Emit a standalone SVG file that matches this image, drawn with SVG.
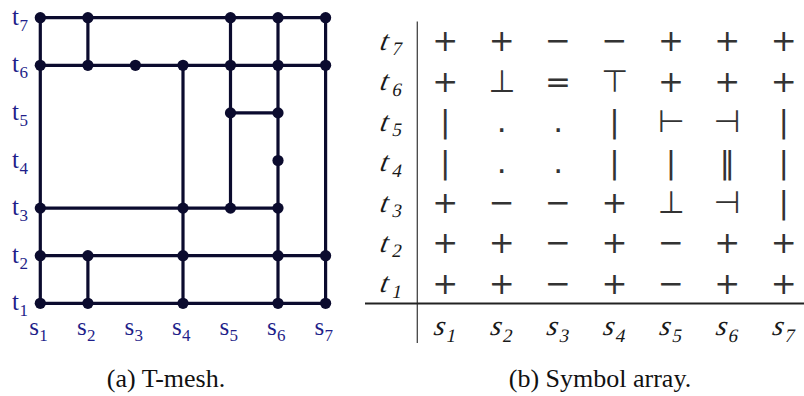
<svg xmlns="http://www.w3.org/2000/svg" width="804" height="396" viewBox="0 0 804 396">
<style>
.edge{stroke:#0b0b2e;stroke-width:3.2;stroke-linecap:round;fill:none}
.node{fill:#0b0b2e}
.ml{font-family:'Liberation Serif','Times New Roman',serif;font-size:25px;fill:#1f1f8a}
.ms{font-size:17px}
.mi{font-family:'Liberation Serif','Times New Roman',serif;font-style:italic;font-size:28px;fill:#1a1a1a}
.sub{font-style:normal;font-size:19px}
.sym{font-family:'DejaVu Sans',sans-serif;font-size:31px;text-anchor:middle;fill:#333333}
.cap{font-family:'Liberation Serif','Times New Roman',serif;font-size:26px;fill:#111111;text-anchor:middle}
</style>
<rect width="804" height="396" fill="#ffffff"/>
<g id="connectors">
<line class="edge" x1="40.3" y1="17.7" x2="325.6" y2="17.7"/>
<line class="edge" x1="40.3" y1="65.3" x2="325.6" y2="65.3"/>
<line class="edge" x1="230.5" y1="112.9" x2="278" y2="112.9"/>
<line class="edge" x1="40.3" y1="208.1" x2="278" y2="208.1"/>
<line class="edge" x1="40.3" y1="255.7" x2="325.6" y2="255.7"/>
<line class="edge" x1="40.3" y1="303.3" x2="325.6" y2="303.3"/>
<line class="edge" x1="40.3" y1="17.7" x2="40.3" y2="303.3"/>
<line class="edge" x1="87.9" y1="17.7" x2="87.9" y2="65.3"/>
<line class="edge" x1="87.9" y1="255.7" x2="87.9" y2="303.3"/>
<line class="edge" x1="183" y1="65.3" x2="183" y2="303.3"/>
<line class="edge" x1="230.5" y1="17.7" x2="230.5" y2="208.1"/>
<line class="edge" x1="278" y1="17.7" x2="278" y2="303.3"/>
<line class="edge" x1="325.6" y1="17.7" x2="325.6" y2="303.3"/>
</g>
<g id="nodes">
<g id="n-s1-t7"><circle class="node" cx="40.3" cy="17.7" r="5.6"/></g>
<g id="n-s2-t7"><circle class="node" cx="87.9" cy="17.7" r="5.6"/></g>
<g id="n-s5-t7"><circle class="node" cx="230.5" cy="17.7" r="5.6"/></g>
<g id="n-s6-t7"><circle class="node" cx="278" cy="17.7" r="5.6"/></g>
<g id="n-s7-t7"><circle class="node" cx="325.6" cy="17.7" r="5.6"/></g>
<g id="n-s1-t6"><circle class="node" cx="40.3" cy="65.3" r="5.6"/></g>
<g id="n-s2-t6"><circle class="node" cx="87.9" cy="65.3" r="5.6"/></g>
<g id="n-s3-t6"><circle class="node" cx="135.4" cy="65.3" r="5.6"/></g>
<g id="n-s4-t6"><circle class="node" cx="183" cy="65.3" r="5.6"/></g>
<g id="n-s5-t6"><circle class="node" cx="230.5" cy="65.3" r="5.6"/></g>
<g id="n-s6-t6"><circle class="node" cx="278" cy="65.3" r="5.6"/></g>
<g id="n-s7-t6"><circle class="node" cx="325.6" cy="65.3" r="5.6"/></g>
<g id="n-s5-t5"><circle class="node" cx="230.5" cy="112.9" r="5.6"/></g>
<g id="n-s6-t5"><circle class="node" cx="278" cy="112.9" r="5.6"/></g>
<g id="n-s6-t4"><circle class="node" cx="278" cy="160.5" r="5.6"/></g>
<g id="n-s1-t3"><circle class="node" cx="40.3" cy="208.1" r="5.6"/></g>
<g id="n-s4-t3"><circle class="node" cx="183" cy="208.1" r="5.6"/></g>
<g id="n-s5-t3"><circle class="node" cx="230.5" cy="208.1" r="5.6"/></g>
<g id="n-s6-t3"><circle class="node" cx="278" cy="208.1" r="5.6"/></g>
<g id="n-s1-t2"><circle class="node" cx="40.3" cy="255.7" r="5.6"/></g>
<g id="n-s2-t2"><circle class="node" cx="87.9" cy="255.7" r="5.6"/></g>
<g id="n-s4-t2"><circle class="node" cx="183" cy="255.7" r="5.6"/></g>
<g id="n-s6-t2"><circle class="node" cx="278" cy="255.7" r="5.6"/></g>
<g id="n-s7-t2"><circle class="node" cx="325.6" cy="255.7" r="5.6"/></g>
<g id="n-s1-t1"><circle class="node" cx="40.3" cy="303.3" r="5.6"/></g>
<g id="n-s2-t1"><circle class="node" cx="87.9" cy="303.3" r="5.6"/></g>
<g id="n-s4-t1"><circle class="node" cx="183" cy="303.3" r="5.6"/></g>
<g id="n-s6-t1"><circle class="node" cx="278" cy="303.3" r="5.6"/></g>
<g id="n-s7-t1"><circle class="node" cx="325.6" cy="303.3" r="5.6"/></g>
</g>
<g id="mesh-labels" class="ml">
<text x="12" y="24.7">t<tspan class="ms" x="19.5" y="30.7">7</tspan></text>
<text x="12" y="72.3">t<tspan class="ms" x="19.5" y="78.3">6</tspan></text>
<text x="12" y="119.9">t<tspan class="ms" x="19.5" y="125.9">5</tspan></text>
<text x="12" y="167.5">t<tspan class="ms" x="19.5" y="173.5">4</tspan></text>
<text x="12" y="215.1">t<tspan class="ms" x="19.5" y="221.1">3</tspan></text>
<text x="12" y="262.7">t<tspan class="ms" x="19.5" y="268.7">2</tspan></text>
<text x="12" y="310.3">t<tspan class="ms" x="19.5" y="316.3">1</tspan></text>
<text x="29.3" y="335">s<tspan class="ms" x="39.3" y="341">1</tspan></text>
<text x="76.9" y="335">s<tspan class="ms" x="86.9" y="341">2</tspan></text>
<text x="124.4" y="335">s<tspan class="ms" x="134.4" y="341">3</tspan></text>
<text x="172" y="335">s<tspan class="ms" x="182" y="341">4</tspan></text>
<text x="219.5" y="335">s<tspan class="ms" x="229.5" y="341">5</tspan></text>
<text x="267" y="335">s<tspan class="ms" x="277" y="341">6</tspan></text>
<text x="314.6" y="335">s<tspan class="ms" x="324.6" y="341">7</tspan></text>
</g>
<g id="table">
<line x1="417.3" y1="21.5" x2="417.3" y2="343" stroke="#444444" stroke-width="1.3"/>
<line x1="365" y1="303.5" x2="804" y2="303.5" stroke="#222222" stroke-width="2"/>
<g class="mi">
<text transform="translate(379 49.5) skewX(-12)">t<tspan class="sub" x="13.5" y="5.5">7</tspan></text>
<text transform="translate(379 90) skewX(-12)">t<tspan class="sub" x="13.5" y="5.5">6</tspan></text>
<text transform="translate(379 130.5) skewX(-12)">t<tspan class="sub" x="13.5" y="5.5">5</tspan></text>
<text transform="translate(379 171) skewX(-12)">t<tspan class="sub" x="13.5" y="5.5">4</tspan></text>
<text transform="translate(379 211.5) skewX(-12)">t<tspan class="sub" x="13.5" y="5.5">3</tspan></text>
<text transform="translate(379 251.5) skewX(-12)">t<tspan class="sub" x="13.5" y="5.5">2</tspan></text>
<text transform="translate(379 292) skewX(-12)">t<tspan class="sub" x="13.5" y="5.5">1</tspan></text>
<text transform="translate(433 335) skewX(-12)">s<tspan class="sub" x="14" y="6.5">1</tspan></text>
<text transform="translate(489.4 335) skewX(-12)">s<tspan class="sub" x="14" y="6.5">2</tspan></text>
<text transform="translate(545.8 335) skewX(-12)">s<tspan class="sub" x="14" y="6.5">3</tspan></text>
<text transform="translate(602.2 335) skewX(-12)">s<tspan class="sub" x="14" y="6.5">4</tspan></text>
<text transform="translate(658.6 335) skewX(-12)">s<tspan class="sub" x="14" y="6.5">5</tspan></text>
<text transform="translate(715 335) skewX(-12)">s<tspan class="sub" x="14" y="6.5">6</tspan></text>
<text transform="translate(771.4 335) skewX(-12)">s<tspan class="sub" x="14" y="6.5">7</tspan></text>
</g>
<g class="sym">
<text x="445.3" y="51">+</text><text x="501.7" y="51">+</text><text x="558.1" y="51">−</text><text x="614.5" y="51">−</text><text x="670.9" y="51">+</text><text x="727.3" y="51">+</text><text x="783.7" y="51">+</text>
<text x="445.3" y="91.5">+</text><text x="501.7" y="91.5">⊥</text><text x="558.1" y="91.5">=</text><text x="614.5" y="91.5">⊤</text><text x="670.9" y="91.5">+</text><text x="727.3" y="91.5">+</text><text x="783.7" y="91.5">+</text>
<text x="445.3" y="132">|</text><text x="501.7" y="132">.</text><text x="558.1" y="132">.</text><text x="614.5" y="132">|</text><text x="670.9" y="132">⊢</text><text x="727.3" y="132">⊣</text><text x="783.7" y="132">|</text>
<text x="445.3" y="172.5">|</text><text x="501.7" y="172.5">.</text><text x="558.1" y="172.5">.</text><text x="614.5" y="172.5">|</text><text x="670.9" y="172.5">|</text><text x="727.3" y="172.5">‖</text><text x="783.7" y="172.5">|</text>
<text x="445.3" y="213">+</text><text x="501.7" y="213">−</text><text x="558.1" y="213">−</text><text x="614.5" y="213">+</text><text x="670.9" y="213">⊥</text><text x="727.3" y="213">⊣</text><text x="783.7" y="213">|</text>
<text x="445.3" y="253">+</text><text x="501.7" y="253">+</text><text x="558.1" y="253">−</text><text x="614.5" y="253">+</text><text x="670.9" y="253">−</text><text x="727.3" y="253">+</text><text x="783.7" y="253">+</text>
<text x="445.3" y="293.5">+</text><text x="501.7" y="293.5">+</text><text x="558.1" y="293.5">−</text><text x="614.5" y="293.5">+</text><text x="670.9" y="293.5">−</text><text x="727.3" y="293.5">+</text><text x="783.7" y="293.5">+</text>
</g>
</g>
<g id="captions" class="cap">
<text x="166" y="387">(a) T-mesh.</text>
<text x="600" y="387">(b) Symbol array.</text>
</g>
</svg>
